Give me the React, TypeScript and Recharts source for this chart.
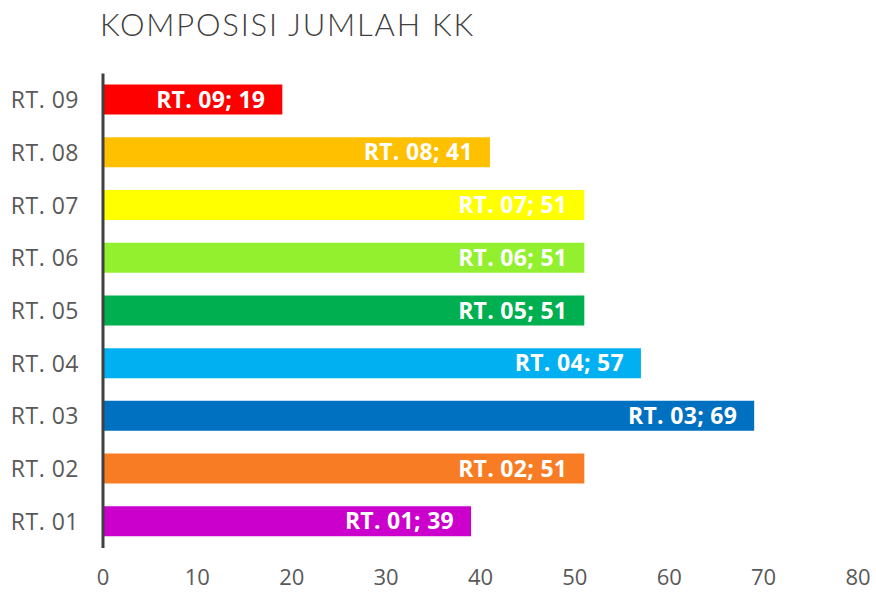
import React from "react";
import { BarChart, Bar, XAxis, YAxis, Cell, LabelList } from "recharts";

const categories = ["RT. 01", "RT. 02", "RT. 03", "RT. 04", "RT. 05", "RT. 06", "RT. 07", "RT. 08", "RT. 09"];
const values = [39, 51, 69, 57, 51, 51, 51, 41, 19];
const colors = ["#CC00CC", "#F87C24", "#0070C0", "#00B0F0", "#00B050", "#92F02F", "#FFFF00", "#FFC000", "#FF0000"];
const xTicks = [0, 10, 20, 30, 40, 50, 60, 70, 80];

const data = categories.map((c, i) => ({ name: c, value: values[i], label: `${c}; ${values[i]}` }));

const FONT = "'Open Sans', sans-serif";

export default function App() {
  return (
    <div style={{ position: "absolute", left: 0, top: 0, width: 876, height: 593, background: "#fff" }}>
      <div
        style={{
          position: "absolute",
          left: 100,
          top: 5,
          fontFamily: "'Lato', sans-serif",
          fontWeight: 300,
          fontSize: 31,
          letterSpacing: 1.8,
          color: "#404040",
          whiteSpace: "nowrap",
        }}
      >
        KOMPOSISI JUMLAH KK
      </div>
      <BarChart
        width={876}
        height={593}
        data={data}
        layout="vertical"
        margin={{ top: 73.6, right: 18, bottom: 0, left: 0 }}
        barSize={30}
      >
        <XAxis
          type="number"
          domain={[0, 80]}
          ticks={xTicks}
          axisLine={false}
          tickLine={false}
          height={45}
          tick={{ fill: "#595959", fontSize: 22, fontFamily: FONT }}
          tickMargin={15}
        />
        <YAxis
          type="category"
          dataKey="name"
          reversed
          width={103}
          axisLine={{ stroke: "#404040", strokeWidth: 3 }}
          tickLine={false}
          tickMargin={18}
          tick={{ fill: "#595959", fontSize: 23, fontFamily: FONT, letterSpacing: 0.5 }}
        />
        <Bar dataKey="value" isAnimationActive={false}>
          {data.map((d, i) => (
            <Cell key={d.name} fill={colors[i]} />
          ))}
          <LabelList
            dataKey="label"
            position="insideRight"
            offset={17}
            fill="#ffffff"
            style={{ fontWeight: 700, fontSize: 23, fontFamily: FONT, letterSpacing: 0.3 }}
          />
        </Bar>
      </BarChart>
    </div>
  );
}
